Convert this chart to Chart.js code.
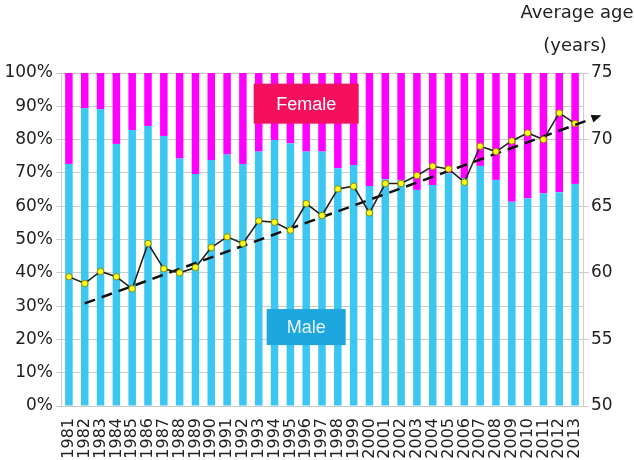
<!DOCTYPE html>
<html>
<head>
<meta charset="utf-8">
<script src="https://cdn.jsdelivr.net/npm/chart.js@4.4.1/dist/chart.umd.min.js"></script>
<style>
  body { margin: 0; background: #fff; }
  canvas { display: block; }
</style>
</head>
<body>
<canvas id="chart" width="634" height="460"></canvas>
<script>
// data
const years = ["1981","1982","1983","1984","1985","1986","1987","1988","1989","1990",
    "1991","1992","1993","1994","1995","1996","1997","1998","1999","2000",
    "2001","2002","2003","2004","2005","2006","2007","2008","2009","2010",
    "2011","2012","2013"];
const malePct = [72.7, 89.4, 89.1, 78.7, 82.9, 84.1, 81.1, 74.3, 69.7, 73.9,
    75.5, 72.7, 76.4, 79.9, 78.9, 76.4, 76.4, 71.4, 72.4, 66.1,
    68.1, 67.9, 64.9, 66.4, 69.9, 68.5, 72.1, 67.9, 61.3, 62.4,
    63.9, 64.2, 66.7];
const femalePct = malePct.map(v => +(100 - v).toFixed(1));
const averageAge = [59.7, 59.2, 60.1, 59.7, 58.8, 62.2, 60.3, 60.0, 60.4, 61.9,
    62.7, 62.2, 63.9, 63.8, 63.2, 65.2, 64.3, 66.3, 66.5, 64.5,
    66.7, 66.7, 67.3, 68.0, 67.8, 66.8, 69.5, 69.1, 69.9, 70.5,
    70.0, 72.0, 71.2];
// trend line: only its two ends are given
const trendAge = years.map((y, i) => i === 1 ? 57.7 : (i === years.length - 1 ? 71.1 : null));
const pctTicks = [0, 10, 20, 30, 40, 50, 60, 70, 80, 90, 100];
const ageTicks = [50, 55, 60, 65, 70, 75];

const tickFont = { family: "DejaVu Sans", size: 17 };
const gridColor = "#cccccc";

// arrow head at the end of the dashed trend line
const trendArrow = {
    id: "trendArrow",
    afterDatasetsDraw(chart) {
        const meta = chart.getDatasetMeta(3);
        const pts = meta.data.filter((p, i) => trendAge[i] !== null);
        const a = pts[0], b = pts[pts.length - 1];
        const dx = b.x - a.x, dy = b.y - a.y;
        const len = Math.sqrt(dx * dx + dy * dy);
        const ux = dx / len, uy = dy / len;
        const ctx = chart.ctx;
        ctx.save();
        ctx.strokeStyle = "#111";
        ctx.fillStyle = "#111";
        ctx.lineWidth = 2.5;
        ctx.setLineDash([11, 7]);
        ctx.beginPath();
        ctx.moveTo(b.x, b.y);
        ctx.lineTo(b.x + ux * 14, b.y + uy * 14);
        ctx.stroke();
        ctx.setLineDash([]);
        const tipX = b.x + ux * 28, tipY = b.y + uy * 28;
        const baseX = tipX - ux * 10, baseY = tipY - uy * 10;
        ctx.beginPath();
        ctx.moveTo(tipX, tipY);
        ctx.lineTo(baseX - uy * 4, baseY + ux * 4);
        ctx.lineTo(baseX + uy * 4, baseY - ux * 4);
        ctx.closePath();
        ctx.fill();
        ctx.restore();
    }
};

// "Female" / "Male" boxes and the right axis caption
const labelsPlugin = {
    id: "labelsPlugin",
    afterDraw(chart) {
        const ctx = chart.ctx;
        const x = chart.scales.x, y = chart.scales.y;
        const cx = x.getPixelForValue(15);
        function box(text, value, w, h, bg, fg) {
            const cy = y.getPixelForValue(value);
            ctx.fillStyle = bg;
            ctx.fillRect(cx - w / 2, cy - h / 2, w, h);
            ctx.fillStyle = fg;
            ctx.font = "18px 'Liberation Sans'";
            ctx.textAlign = "center";
            ctx.textBaseline = "middle";
            ctx.fillText(text, cx, cy + 1);
        }
        ctx.save();
        box("Female", 90.8, 105, 40, "#f5105e", "#ffffff");
        box("Male", 23.7, 79, 36, "#1ea6df", "#e8f6ff");
        ctx.fillStyle = "#222";
        ctx.font = "18px 'DejaVu Sans'";
        ctx.textAlign = "center";
        ctx.textBaseline = "middle";
        ctx.fillText("Average age", 577, 13);
        ctx.fillText("(years)", 575, 46);
        ctx.restore();
    }
};

new Chart(document.getElementById("chart").getContext("2d"), {
    type: "bar",
    data: {
        labels: years,
        datasets: [{
            type: "line",
            label: "Average age",
            data: averageAge,
            yAxisID: "y1",
            borderColor: "#222",
            borderWidth: 1.6,
            pointBackgroundColor: "#ffff1a",
            pointBorderColor: "#8a8a00",
            pointBorderWidth: 1,
            pointRadius: 3.2,
            tension: 0,
            order: 0,
        }, {
            label: "Male",
            data: malePct,
            backgroundColor: "#3cc6f2",
            stack: "s",
            order: 2,
        }, {
            label: "Female",
            data: femalePct,
            backgroundColor: "#ff00ff",
            stack: "s",
            order: 3,
        }, {
            type: "line",
            label: "Trend",
            data: trendAge,
            yAxisID: "y1",
            borderColor: "#111",
            borderWidth: 2.5,
            borderDash: [11, 7],
            pointRadius: 0,
            spanGaps: true,
            clip: false,
            order: 1,
        }],
    },
    options: {
        responsive: false,
        animation: false,
        layout: { padding: { top: 73, left: 0, right: 0, bottom: 0 } },
        datasets: { bar: { barPercentage: 0.95, categoryPercentage: 0.5 } },
        plugins: {
            legend: { display: false },
            tooltip: { enabled: false },
        },
        scales: {
            x: {
                stacked: true,
                grid: { display: false },
                border: { display: true, color: gridColor },
                ticks: {
                    autoSkip: false,
                    maxRotation: 90,
                    minRotation: 90,
                    padding: 4,
                    color: "#222",
                    font: { family: "DejaVu Sans", size: 16 },
                },
                afterFit(scale) { scale.height = 54; },
            },
            y: {
                stacked: true,
                min: 0,
                max: 100,
                afterBuildTicks(scale) { scale.ticks = pctTicks.map(v => ({ value: v })); },
                grid: { color: gridColor, tickLength: 5 },
                border: { color: gridColor },
                ticks: {
                    padding: 3,
                    color: "#222",
                    font: tickFont,
                    callback: v => v + "%",
                },
                afterFit(scale) { scale.width = 61; },
            },
            y1: {
                position: "right",
                stacked: false,
                min: 50,
                max: 75,
                afterBuildTicks(scale) { scale.ticks = ageTicks.map(v => ({ value: v })); },
                grid: { drawOnChartArea: false, color: gridColor, tickLength: 6 },
                border: { color: gridColor },
                ticks: { padding: 2, color: "#222", font: tickFont },
                afterFit(scale) { scale.width = 51; },
            },
        },
    },
    plugins: [trendArrow, labelsPlugin],
});
</script>
</body>
</html>
